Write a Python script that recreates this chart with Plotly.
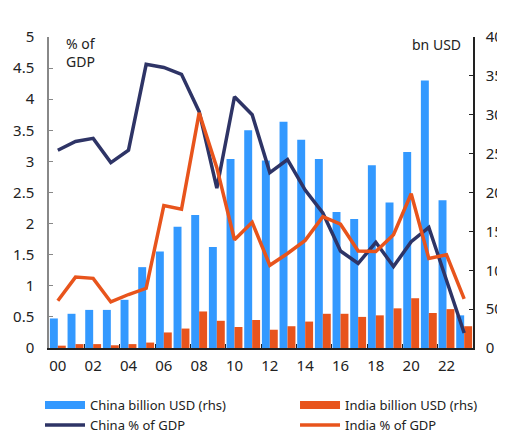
import plotly.graph_objects as go

years = list(range(24))
year_tick_vals = list(range(0, 24, 2))
year_tick_labels = ["00", "02", "04", "06", "08", "10", "12", "14", "16", "18", "20", "22"]

china_bn_usd = [38, 44, 49, 49, 62, 104, 124, 156, 171, 130, 243, 280,
                241, 291, 268, 243, 175, 166, 235, 187, 252, 344, 190, 42]
india_bn_usd = [3, 5, 5, 3.5, 5, 7, 20, 25, 47, 35, 27, 36,
                23.5, 28, 34, 44, 44, 40, 42, 51, 64, 45, 50, 28]
china_pct_gdp = [3.18, 3.32, 3.37, 2.98, 3.18, 4.56, 4.51, 4.40, 3.80, 2.57, 4.04, 3.75,
                 2.82, 3.03, 2.54, 2.17, 1.56, 1.36, 1.70, 1.31, 1.71, 1.94, 1.09, 0.24]
india_pct_gdp = [0.76, 1.14, 1.12, 0.74, 0.86, 0.96, 2.29, 2.23, 3.78, 2.90, 1.74, 2.02,
                 1.33, 1.52, 1.73, 2.11, 1.99, 1.56, 1.55, 1.82, 2.48, 1.44, 1.50, 0.79]

BLUE = "#3399FF"
ORANGE = "#E8541C"
NAVY = "#2E3466"
TXT = "#222222"
FONT = "Noto Sans"

fig = go.Figure()
# bars (drawn on base axis, right side)
fig.add_trace(go.Bar(x=years, y=china_bn_usd, name="China billion USD (rhs)",
                     marker=dict(color=BLUE, line=dict(width=0)), yaxis="y",
                     showlegend=False))
fig.add_trace(go.Bar(x=years, y=india_bn_usd, name="India billion USD (rhs)",
                     marker=dict(color=ORANGE, line=dict(width=0)), yaxis="y",
                     showlegend=False))
# lines (overlay axis, left side, drawn on top)
fig.add_trace(go.Scatter(x=years, y=china_pct_gdp, name="China % of GDP", mode="lines",
                         line=dict(color=NAVY, width=3.5), yaxis="y2", showlegend=False))
fig.add_trace(go.Scatter(x=years, y=india_pct_gdp, name="India % of GDP", mode="lines",
                         line=dict(color=ORANGE, width=3.5), yaxis="y2", showlegend=False))

# legend entries (wide rectangle swatches for bars, lines for lines)
fig.add_trace(go.Scatter(x=[None], y=[None], mode="lines", name="China billion USD (rhs)",
                         line=dict(color=BLUE, width=8), legend="legend"))
fig.add_trace(go.Scatter(x=[None], y=[None], mode="lines", name="China % of GDP",
                         line=dict(color=NAVY, width=3.5), legend="legend"))
fig.add_trace(go.Scatter(x=[None], y=[None], mode="lines", name="India billion USD (rhs)",
                         line=dict(color=ORANGE, width=8), legend="legend2"))
fig.add_trace(go.Scatter(x=[None], y=[None], mode="lines", name="India % of GDP",
                         line=dict(color=ORANGE, width=3.5), legend="legend2"))

leg_common = dict(orientation="v", xref="container", yref="container",
                  xanchor="left", yanchor="top", y=0.103, tracegroupgap=0,
                  font=dict(size=13, color=TXT), itemwidth=40, bgcolor="rgba(0,0,0,0)")

fig.update_layout(
    width=497, height=426,
    margin=dict(l=41, r=32, t=29, b=86, autoexpand=False),
    paper_bgcolor="white", plot_bgcolor="white",
    font=dict(family=FONT, size=13, color=TXT),
    barmode="group", bargap=0.1, bargroupgap=0,
    showlegend=True,
    legend=dict(x=0.0644, **leg_common),
    legend2=dict(x=0.5775, **leg_common),
    xaxis=dict(range=[-0.5, 23.5], tickmode="array", tickvals=year_tick_vals,
               ticktext=year_tick_labels, ticks="", showline=True, linecolor="#222222",
               linewidth=1.5, showgrid=False, zeroline=False,
               tickfont=dict(size=15, color=TXT), ticklabelstandoff=3,
               minor=dict(tickvals=[v + 1.5 for v in year_tick_vals], ticks="inside",
                          ticklen=4, tickcolor="#222222", showgrid=False)),
    yaxis=dict(range=[0, 400], dtick=50, side="right", showline=True, linecolor="#222222",
               linewidth=1.5, ticks="inside", ticklen=4, tickcolor="#222222",
               showgrid=False, zeroline=False, tickfont=dict(size=15, color=TXT),
               ticklabelstandoff=8),
    yaxis2=dict(range=[0, 5], dtick=0.5, side="left", overlaying="y", showline=True,
                linecolor="#888888", linewidth=1.5, ticks="inside", ticklen=4,
                tickcolor="#888888", showgrid=False, zeroline=False,
                tickfont=dict(size=15, color=TXT), ticklabelstandoff=10),
    annotations=[
        dict(text="% of<br>GDP", xref="paper", yref="paper", x=0.035, y=1.0, yshift=5,
             xanchor="left", yanchor="top", showarrow=False, align="left",
             font=dict(size=14, color=TXT)),
        dict(text="bn USD", xref="paper", yref="paper", x=0.977, y=1.0, yshift=4,
             xanchor="right", yanchor="top", showarrow=False, align="right",
             font=dict(size=14, color=TXT)),
    ],
)

fig.write_html("out.html")
